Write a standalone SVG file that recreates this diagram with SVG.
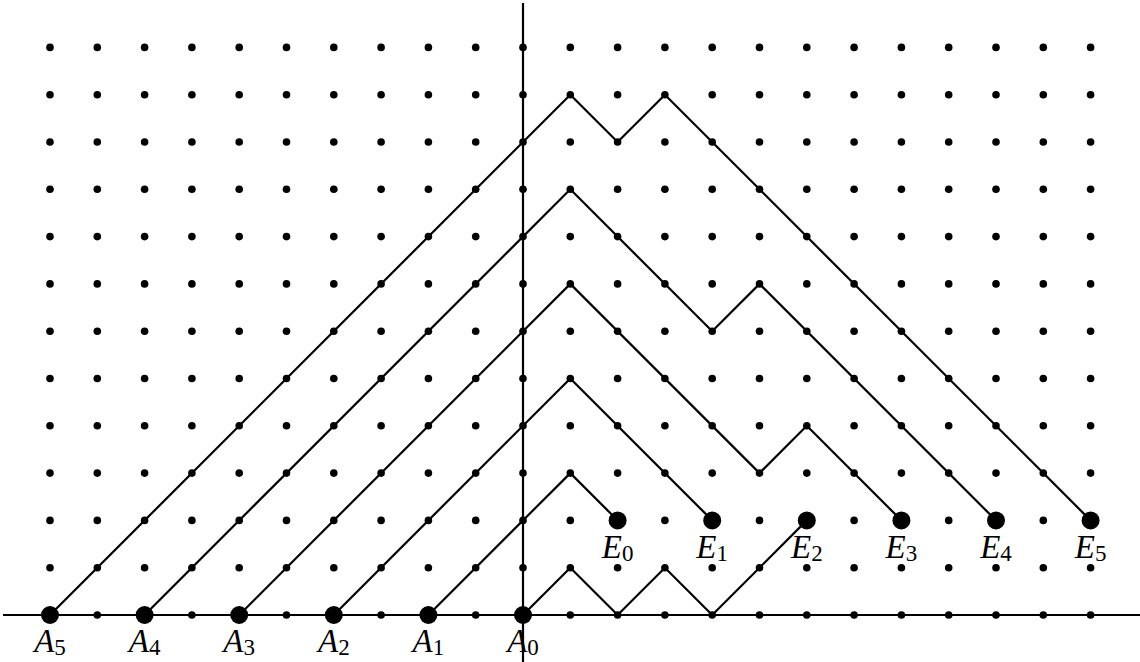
<svg xmlns="http://www.w3.org/2000/svg" xmlns:xlink="http://www.w3.org/1999/xlink" width="1140" height="662" viewBox="0 0 1140 662">
<style>
.axis{stroke:#000;stroke-width:2.2;fill:none}
.path{stroke:#000;stroke-width:2.2;fill:none;stroke-linejoin:miter}
.dot{fill:#000}
.big{fill:#000}
.lbl{font-family:"Liberation Serif",serif;font-style:italic;font-size:33px;fill:#000;text-anchor:middle}
.sub{font-style:normal;font-size:23px}
</style>
<defs>
<g id="row">
<circle class="dot" cx="50" cy="0" r="3.8"/><circle class="dot" cx="97.3" cy="0" r="3.8"/><circle class="dot" cx="144.6" cy="0" r="3.8"/><circle class="dot" cx="191.9" cy="0" r="3.8"/><circle class="dot" cx="239.2" cy="0" r="3.8"/><circle class="dot" cx="286.5" cy="0" r="3.8"/><circle class="dot" cx="333.8" cy="0" r="3.8"/><circle class="dot" cx="381.1" cy="0" r="3.8"/><circle class="dot" cx="428.4" cy="0" r="3.8"/><circle class="dot" cx="475.7" cy="0" r="3.8"/><circle class="dot" cx="523" cy="0" r="3.8"/><circle class="dot" cx="570.3" cy="0" r="3.8"/><circle class="dot" cx="617.6" cy="0" r="3.8"/><circle class="dot" cx="664.9" cy="0" r="3.8"/><circle class="dot" cx="712.2" cy="0" r="3.8"/><circle class="dot" cx="759.5" cy="0" r="3.8"/><circle class="dot" cx="806.8" cy="0" r="3.8"/><circle class="dot" cx="854.1" cy="0" r="3.8"/><circle class="dot" cx="901.4" cy="0" r="3.8"/><circle class="dot" cx="948.7" cy="0" r="3.8"/><circle class="dot" cx="996" cy="0" r="3.8"/><circle class="dot" cx="1043.3" cy="0" r="3.8"/><circle class="dot" cx="1090.6" cy="0" r="3.8"/>
</g>
</defs>
<rect width="1140" height="662" fill="#fff"/>
<g id="lattice">
<use xlink:href="#row" y="615"/><use xlink:href="#row" y="567.7"/><use xlink:href="#row" y="520.4"/><use xlink:href="#row" y="473.1"/><use xlink:href="#row" y="425.8"/><use xlink:href="#row" y="378.5"/><use xlink:href="#row" y="331.2"/><use xlink:href="#row" y="283.9"/><use xlink:href="#row" y="236.6"/><use xlink:href="#row" y="189.3"/><use xlink:href="#row" y="142"/><use xlink:href="#row" y="94.7"/><use xlink:href="#row" y="47.4"/>
</g>
<g id="axes">
<line class="axis" x1="3" y1="615" x2="1140" y2="615"/>
<line class="axis" x1="523" y1="3" x2="523" y2="662"/>
</g>
<g id="connectors">
<polyline class="path" points="523,615 570.3,567.7 617.6,615 664.9,567.7 712.2,615 806.8,520.4"/>
<polyline class="path" points="428.4,615 570.3,473.1 617.6,520.4"/>
<polyline class="path" points="333.8,615 570.3,378.5 712.2,520.4"/>
<polyline class="path" points="239.2,615 570.3,283.9 759.5,473.1 806.8,425.8 901.4,520.4"/>
<polyline class="path" points="144.6,615 570.3,189.3 712.2,331.2 759.5,283.9 996,520.4"/>
<polyline class="path" points="50,615 570.3,94.7 617.6,142 664.9,94.7 1090.6,520.4"/>
</g>
<g id="A0"><circle class="big" cx="523" cy="615" r="9"/><text class="lbl" x="523" y="652">A<tspan class="sub" dy="3">0</tspan></text></g>
<g id="A1"><circle class="big" cx="428.4" cy="615" r="9"/><text class="lbl" x="428.4" y="652">A<tspan class="sub" dy="3">1</tspan></text></g>
<g id="A2"><circle class="big" cx="333.8" cy="615" r="9"/><text class="lbl" x="333.8" y="652">A<tspan class="sub" dy="3">2</tspan></text></g>
<g id="A3"><circle class="big" cx="239.2" cy="615" r="9"/><text class="lbl" x="239.2" y="652">A<tspan class="sub" dy="3">3</tspan></text></g>
<g id="A4"><circle class="big" cx="144.6" cy="615" r="9"/><text class="lbl" x="144.6" y="652">A<tspan class="sub" dy="3">4</tspan></text></g>
<g id="A5"><circle class="big" cx="50" cy="615" r="9"/><text class="lbl" x="50" y="652">A<tspan class="sub" dy="3">5</tspan></text></g>
<g id="E0"><circle class="big" cx="617.6" cy="520.4" r="9"/><text class="lbl" x="617.6" y="558">E<tspan class="sub" dy="3">0</tspan></text></g>
<g id="E1"><circle class="big" cx="712.2" cy="520.4" r="9"/><text class="lbl" x="712.2" y="558">E<tspan class="sub" dy="3">1</tspan></text></g>
<g id="E2"><circle class="big" cx="806.8" cy="520.4" r="9"/><text class="lbl" x="806.8" y="558">E<tspan class="sub" dy="3">2</tspan></text></g>
<g id="E3"><circle class="big" cx="901.4" cy="520.4" r="9"/><text class="lbl" x="901.4" y="558">E<tspan class="sub" dy="3">3</tspan></text></g>
<g id="E4"><circle class="big" cx="996" cy="520.4" r="9"/><text class="lbl" x="996" y="558">E<tspan class="sub" dy="3">4</tspan></text></g>
<g id="E5"><circle class="big" cx="1090.6" cy="520.4" r="9"/><text class="lbl" x="1090.6" y="558">E<tspan class="sub" dy="3">5</tspan></text></g>
</svg>
